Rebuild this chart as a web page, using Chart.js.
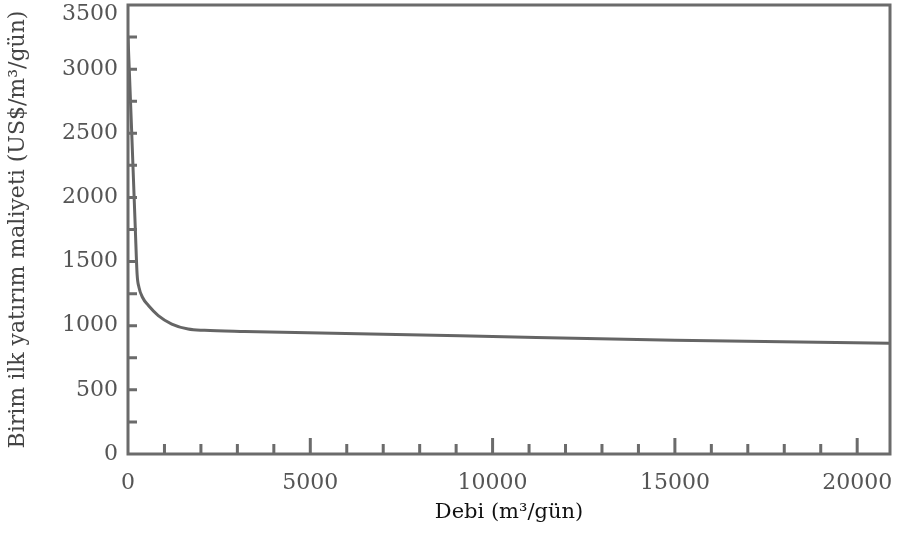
<!DOCTYPE html>
<html>
<head>
<meta charset="utf-8">
<script src="https://cdn.jsdelivr.net/npm/chart.js@4/dist/chart.umd.min.js"></script>
<style>
html,body{margin:0;padding:0;background:#fff;}
#wrap{width:897px;height:541px;position:relative;}
</style>
</head>
<body>
<div id="wrap"><canvas id="c" width="897" height="541"></canvas></div>
<script>
// Data
const debi = [0, 100, 200, 250, 300, 400, 560, 830, 1200, 1650, 2100, 3200, 9100, 15000, 20900];
const maliyet = [3250, 2520, 1760, 1400, 1300, 1220, 1157, 1079, 1013, 974, 964, 955, 921, 886, 864];
const xMajorTicks = [0, 5000, 10000, 15000, 20000];
const xMinorTicks = [1000, 2000, 3000, 4000, 6000, 7000, 8000, 9000, 11000, 12000, 13000, 14000, 16000, 17000, 18000, 19000];
const yMajorTicks = [0, 500, 1000, 1500, 2000, 2500, 3000, 3500];
const yMinorTicks = [250, 750, 1250, 1750, 2250, 2750, 3250];
const xTitle = 'Debi (m³/gün)';
const yTitle = 'Birim ilk yatırım maliyeti (US$/m³/gün)';

const AXIS = '#6b6b6b';
const FONT = 'DejaVu Serif';
const TICK_FONT = {family: FONT, size: 22};
const TICK_COLOR = '#555';

const frameTicks = {
  id: 'frameTicks',
  afterDatasetsDraw(chart) {
    const {ctx, chartArea: a, scales: {x, y}} = chart;
    ctx.save();
    ctx.strokeStyle = AXIS;
    ctx.lineWidth = 3;
    ctx.strokeRect(a.left, a.top, a.right - a.left, a.bottom - a.top);
    ctx.beginPath();
    xMajorTicks.forEach(v => { if (v === 0) return; const px = x.getPixelForValue(v); ctx.moveTo(px, a.bottom); ctx.lineTo(px, a.bottom - 16); });
    xMinorTicks.forEach(v => { const px = x.getPixelForValue(v); ctx.moveTo(px, a.bottom); ctx.lineTo(px, a.bottom - 10); });
    yMajorTicks.concat(yMinorTicks).forEach(v => { if (v === 0 || v === 3500) return; const py = y.getPixelForValue(v); ctx.moveTo(a.left, py); ctx.lineTo(a.left + 9, py); });
    ctx.stroke();
    // top y label sits just inside the canvas (it would be clipped otherwise)
    const top = yMajorTicks[yMajorTicks.length - 1];
    ctx.fillStyle = TICK_COLOR;
    ctx.font = TICK_FONT.size + 'px "' + FONT + '"';
    ctx.textAlign = 'right';
    ctx.textBaseline = 'top';
    ctx.fillText(String(top), a.left - 10, y.getPixelForValue(top) - 2);
    ctx.restore();
  }
};

new Chart(document.getElementById('c'), {
  type: 'scatter',
  data: {
    datasets: [{
      data: debi.map((d, i) => ({x: d, y: maliyet[i]})),
      showLine: true,
      borderColor: '#656565',
      borderWidth: 3,
      pointRadius: 0,
      cubicInterpolationMode: 'monotone',
      fill: false
    }]
  },
  options: {
    responsive: false,
    animation: false,
    layout: {padding: {left: 0, right: 7, top: 5, bottom: 0}},
    plugins: {legend: {display: false}, tooltip: {enabled: false}},
    scales: {
      x: {
        type: 'linear', min: 0, max: 20900,
        afterBuildTicks(s) { s.ticks = xMajorTicks.map(v => ({value: v})); },
        afterFit(s) { s.height = 87; s.paddingLeft = 0; s.paddingRight = 0; },
        grid: {display: false, drawTicks: false},
        border: {display: false},
        ticks: {color: TICK_COLOR, font: TICK_FONT, padding: 16, maxRotation: 0, callback: v => String(v)},
        title: {display: true, text: xTitle, color: '#111', font: {family: FONT, size: 21}, padding: {top: 4, bottom: 16}}
      },
      y: {
        type: 'linear', min: 0, max: 3500,
        afterBuildTicks(s) { s.ticks = yMajorTicks.map(v => ({value: v})); },
        afterFit(s) { s.width = 128; s.paddingTop = 0; s.paddingBottom = 0; },
        grid: {display: false, drawTicks: false},
        border: {display: false},
        ticks: {color: TICK_COLOR, font: TICK_FONT, padding: 10, callback: v => (v === 3500 ? '' : String(v))},
        title: {display: true, text: yTitle, color: '#444', font: {family: FONT, size: 22}, padding: {top: 5, bottom: 4}}
      }
    }
  },
  plugins: [frameTicks]
});
</script>
</body>
</html>
